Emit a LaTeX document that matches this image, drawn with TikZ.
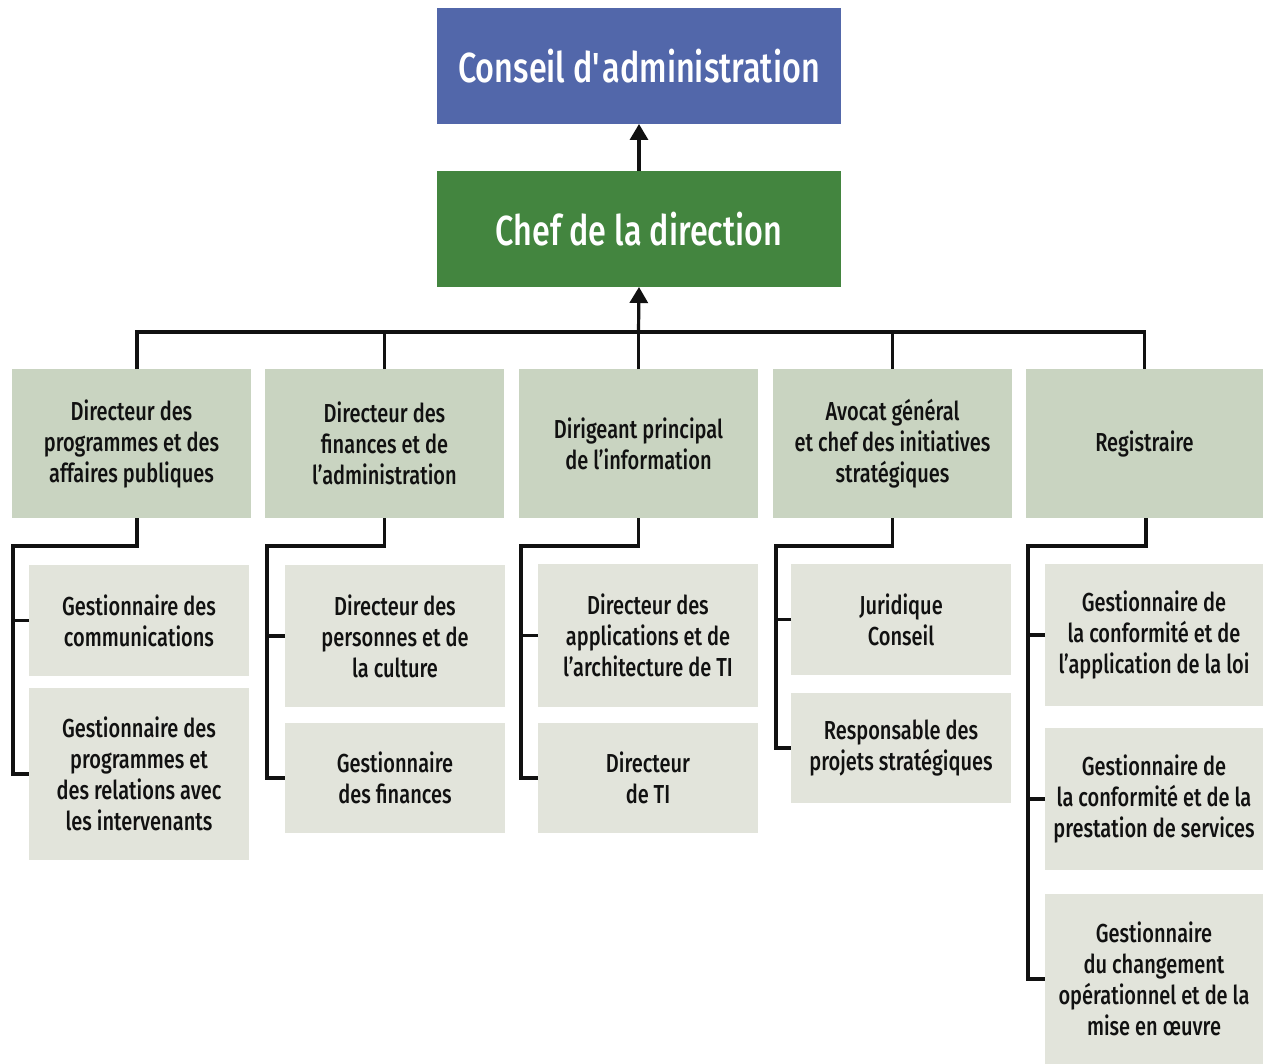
\documentclass[tikz,border=0pt]{standalone}
\usepackage{fontspec}
\setmainfont{Fira Sans}[FakeStretch=0.77, UprightFont=* Medium]
\usetikzlibrary{arrows.meta}
\definecolor{cablue}{HTML}{5267AA}
\definecolor{cdgreen}{HTML}{43853F}
\definecolor{lvtwo}{HTML}{C9D4C1}
\definecolor{lvthree}{HTML}{E2E4DB}
\definecolor{ink}{HTML}{111111}
\begin{document}
\begin{tikzpicture}[x=1pt,y=-1pt,
  box/.style={inner sep=0pt, outer sep=0pt, align=center, text=ink, font=\fontsize{26}{31}\selectfont},
  topbox/.style={box, minimum width=404pt, minimum height=116pt, text=white, font=\fontsize{42}{48}\selectfont},
  lvb/.style={box, fill=lvtwo, minimum width=239pt, minimum height=149pt},
  lvc/.style={box, fill=lvthree, minimum width=220pt},
  link/.style={line width=3.2pt, draw=ink},
  up/.style={link, -{Triangle[width=18pt,length=16pt]}}]
\useasboundingbox (0,0) rectangle (1263,1064);

% top
\node[topbox, fill=cablue] (ca) at (639,66) {Conseil d\textquotesingle administration};
\node[topbox, fill=cdgreen] (cd) at (639,229) {Chef de la direction};

% level 2
\node[lvb] (la) at (131.5,443.5) {Directeur des\\programmes et des\\affaires publiques};
\node[lvb] (lb) at (384.5,443.5) {Directeur des\\finances et de\\l’administration};
\node[lvb] (lc) at (638.5,443.5) {Dirigeant principal\\de l’information};
\node[lvb] (ld) at (892.5,443.5) {Avocat général\\et chef des initiatives\\stratégiques};
\node[lvb, minimum width=237pt] (le) at (1144.5,443.5) {Registraire};

% level 3
\node[lvc, minimum height=111pt] (a1) at (139,620.5) {Gestionnaire des\\communications};
\node[lvc, minimum height=172pt] (a2) at (139,774) {Gestionnaire des\\programmes et\\des relations avec\\les intervenants};
\node[lvc, minimum height=142pt] (b1) at (395,636) {Directeur des\\personnes et de\\la culture};
\node[lvc, minimum height=110pt] (b2) at (395,778) {Gestionnaire\\des finances};
\node[lvc, minimum height=143pt] (c1) at (648,635.5) {Directeur des\\applications et de\\l’architecture de TI};
\node[lvc, minimum height=110pt] (c2) at (648,778) {Directeur\\de TI};
\node[lvc, minimum height=111pt] (d1) at (901,619.5) {Juridique\\Conseil};
\node[lvc, minimum height=110pt] (d2) at (901,748) {Responsable des\\projets stratégiques};
\node[lvc, minimum width=218pt, minimum height=142pt] (e1) at (1154,635) {Gestionnaire de\\la conformité et de\\l’application de la loi};
\node[lvc, minimum width=218pt, minimum height=142pt] (e2) at (1154,799) {Gestionnaire de\\la conformité et de la\\prestation de services};
\node[lvc, minimum width=218pt, minimum height=170pt] (e3) at (1154,979) {Gestionnaire\\du changement\\opérationnel et de la\\mise en œuvre};

% arrows up
\draw[up] (cd.north) -- (ca.south);
\coordinate (busc) at (638.5,332);
\draw[up] (busc) -- (cd.south);

% bus
\draw[link] ([xshift=5.5pt]la.north) |- (le.north |- busc) -- (le.north);
\draw[link] (lb.north) -- (lb.north |- busc);
\draw[link] (lc.north) -- (lc.north |- busc);
\draw[link] (ld.north) -- (ld.north |- busc);

% branch a
\coordinate (ka) at (13,546);
\draw[link] ([xshift=5.5pt]la.south) |- (ka) |- (a2.west);
\draw[link] (a1.west) -- (a1.west -| ka);
% branch b
\coordinate (kb) at (267,546);
\draw[link] (lb.south) |- (kb) |- (b2.west);
\draw[link] (b1.west) -- (b1.west -| kb);
% branch c
\coordinate (kc) at (521,546);
\draw[link] (lc.south) |- (kc) |- (c2.west);
\draw[link] (c1.west) -- (c1.west -| kc);
% branch d
\coordinate (kd) at (776,546);
\draw[link] (ld.south) |- (kd) |- (d2.west);
\draw[link] (d1.west) -- (d1.west -| kd);
% branch e
\coordinate (ke) at (1028,546);
\draw[link] ([xshift=1.5pt]le.south) |- (ke) |- (e3.west);
\draw[link] (e1.west) -- (e1.west -| ke);
\draw[link] (e2.west) -- (e2.west -| ke);
\end{tikzpicture}
\end{document}
